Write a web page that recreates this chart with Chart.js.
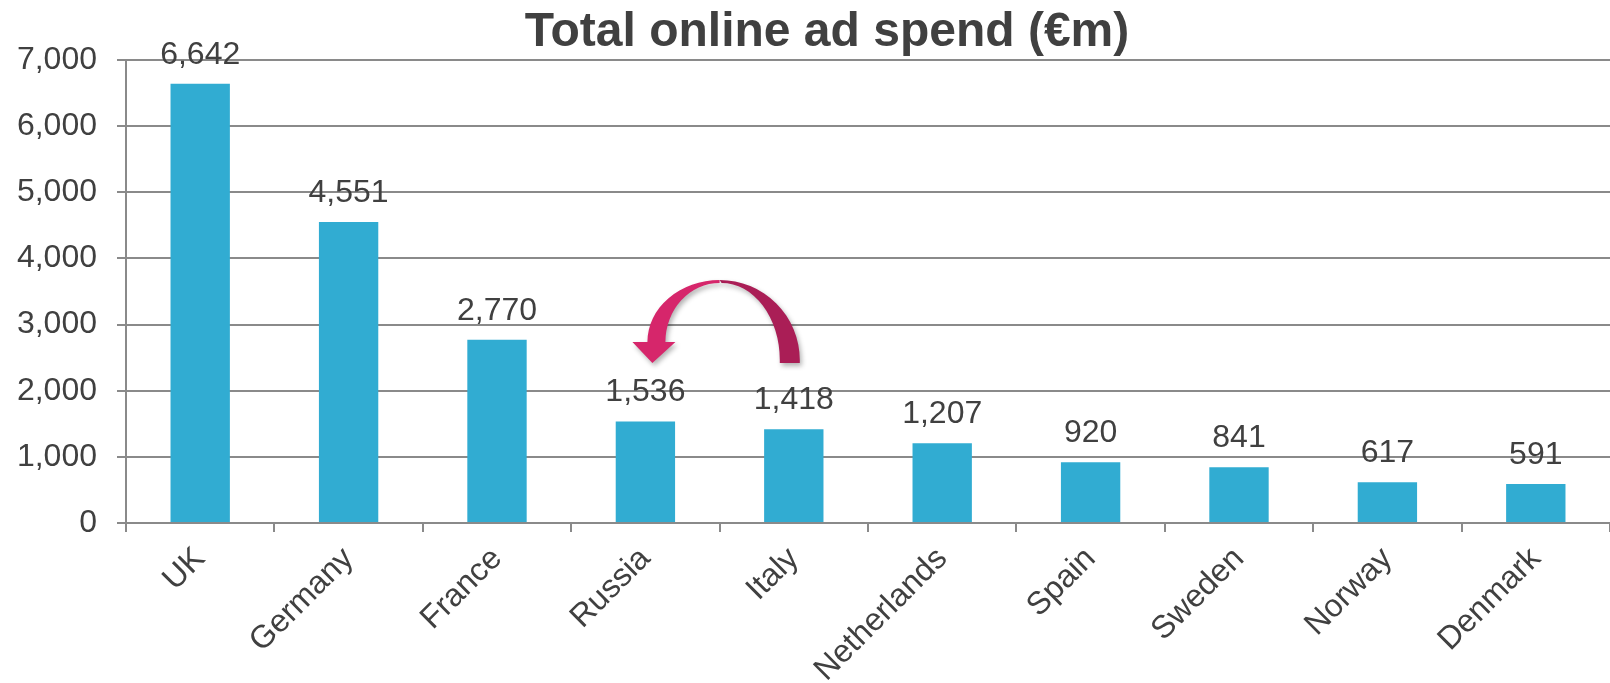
<!DOCTYPE html>
<html>
<head>
<meta charset="utf-8">
<script src="https://cdn.jsdelivr.net/npm/chart.js@4/dist/chart.umd.min.js"></script>
<style>
  html, body { margin: 0; padding: 0; background: #fff; }
</style>
</head>
<body>
<canvas id="spend" width="1610" height="683"></canvas>
<script>
const countries = ['UK', 'Germany', 'France', 'Russia', 'Italy', 'Netherlands', 'Spain', 'Sweden', 'Norway', 'Denmark'];
const spend = [6642, 4551, 2770, 1536, 1418, 1207, 920, 841, 617, 591];
const yTicks = [0, 1000, 2000, 3000, 4000, 5000, 6000, 7000];
const chartTitle = 'Total online ad spend (€m)';

const textColor = '#404040';
const gridColor = '#8a8a8a';
const font = 'Liberation Sans, Arial, sans-serif';

// title drawn by hand so it can sit where the original one does
const titlePlugin = {
    id: 'titlePlugin',
    afterDraw(chart) {
        const ctx = chart.ctx;
        ctx.save();
        ctx.fillStyle = textColor;
        ctx.font = 'bold 48px ' + font;
        ctx.textAlign = 'center';
        ctx.textBaseline = 'alphabetic';
        ctx.fillText(chartTitle, 827, 46);
        ctx.restore();
    }
};

const valueLabels = {
    id: 'valueLabels',
    afterDatasetsDraw(chart) {
        const ctx = chart.ctx;
        const meta = chart.getDatasetMeta(0);
        ctx.save();
        ctx.fillStyle = textColor;
        ctx.font = '32px ' + font;
        ctx.textAlign = 'center';
        ctx.textBaseline = 'alphabetic';
        meta.data.forEach((bar, i) => {
            ctx.fillText(spend[i].toLocaleString('en-US'), bar.x, bar.y - 20);
        });
        ctx.restore();
    }
};

// curved arrow from Italy back over to Russia
const swapArrow = {
    id: 'swapArrow',
    afterDatasetsDraw(chart) {
        const ctx = chart.ctx;
        const x = chart.scales.x, y = chart.scales.y;
        const xr = x.getPixelForValue(3);
        const xi = x.getPixelForValue(4);
        const cx = (xr + xi) / 2;
        const top = y.getPixelForValue(3674);
        const innerTop = y.getPixelForValue(3629);
        const leftBase = y.getPixelForValue(2737);
        const rightBase = y.getPixelForValue(2464);
        const tailY = y.getPixelForValue(2419);

        ctx.save();
        ctx.shadowColor = 'rgba(0,0,0,0.3)';
        ctx.shadowBlur = 5;
        ctx.shadowOffsetX = 2;
        ctx.shadowOffsetY = 3;

        // right half (darker) with tail
        const oR = xi + 6 - cx, iR = xi - 14 - cx;
        ctx.fillStyle = '#aa1e56';
        ctx.beginPath();
        ctx.moveTo(cx + oR, tailY);
        ctx.lineTo(cx + oR, rightBase);
        ctx.ellipse(cx, rightBase, oR, rightBase - top, 0, 0, -Math.PI / 2, true);
        ctx.ellipse(cx + 2, rightBase, iR - 2, rightBase - innerTop, 0, -Math.PI / 2, 0, false);
        ctx.lineTo(cx + iR, tailY);
        ctx.closePath();
        ctx.fill();

        // left half with arrowhead
        const oL = cx - (xr + 2), iL = cx - (xr + 20);
        const mid = xr + 7;
        const tipY = tailY;
        ctx.fillStyle = '#d6266b';
        ctx.beginPath();
        ctx.moveTo(cx, top);
        ctx.ellipse(cx, leftBase, oL, leftBase - top, 0, -Math.PI / 2, -Math.PI, true);
        ctx.lineTo(mid - 20, leftBase);
        ctx.lineTo(mid, tipY);
        ctx.lineTo(mid + 23, leftBase);
        ctx.lineTo(cx - iL, leftBase);
        ctx.ellipse(cx, leftBase, iL, leftBase - innerTop, 0, -Math.PI, -Math.PI / 2, false);
        ctx.closePath();
        ctx.fill();
        ctx.restore();
    }
};

const spendChart = new Chart(document.getElementById('spend').getContext('2d'), {
    type: 'bar',
    data: {
        labels: countries,
        datasets: [{
            label: chartTitle,
            data: spend,
            backgroundColor: '#31acd2',
            categoryPercentage: 1,
            barPercentage: 0.4
        }]
    },
    options: {
        responsive: false,
        animation: false,
        layout: { padding: { top: 60, right: 0, left: 0, bottom: 0 } },
        plugins: {
            legend: { display: false },
            title: { display: false },
            tooltip: { enabled: false }
        },
        scales: {
            x: {
                offset: true,
                grid: {
                    offset: true,
                    drawOnChartArea: false,
                    drawTicks: true,
                    tickLength: 9,
                    color: gridColor,
                    lineWidth: 2
                },
                border: { display: true, color: gridColor, width: 2 },
                ticks: {
                    color: textColor,
                    font: { family: font, size: 32 },
                    minRotation: 45,
                    maxRotation: 45,
                    padding: 8,
                    autoSkip: false
                },
                afterFit(scale) { scale.height = 160; }
            },
            y: {
                min: 0,
                max: 7000,
                afterBuildTicks(scale) { scale.ticks = yTicks.map(v => ({ value: v })); },
                grid: {
                    color: gridColor,
                    lineWidth: 2,
                    tickLength: 9
                },
                border: { display: true, color: gridColor, width: 2 },
                ticks: {
                    color: textColor,
                    font: { family: font, size: 32 },
                    padding: 20,
                    callback: v => v.toLocaleString('en-US')
                },
                afterFit(scale) { scale.width = 126; }
            }
        }
    },
    plugins: [titlePlugin, valueLabels, swapArrow]
});
</script>
</body>
</html>
